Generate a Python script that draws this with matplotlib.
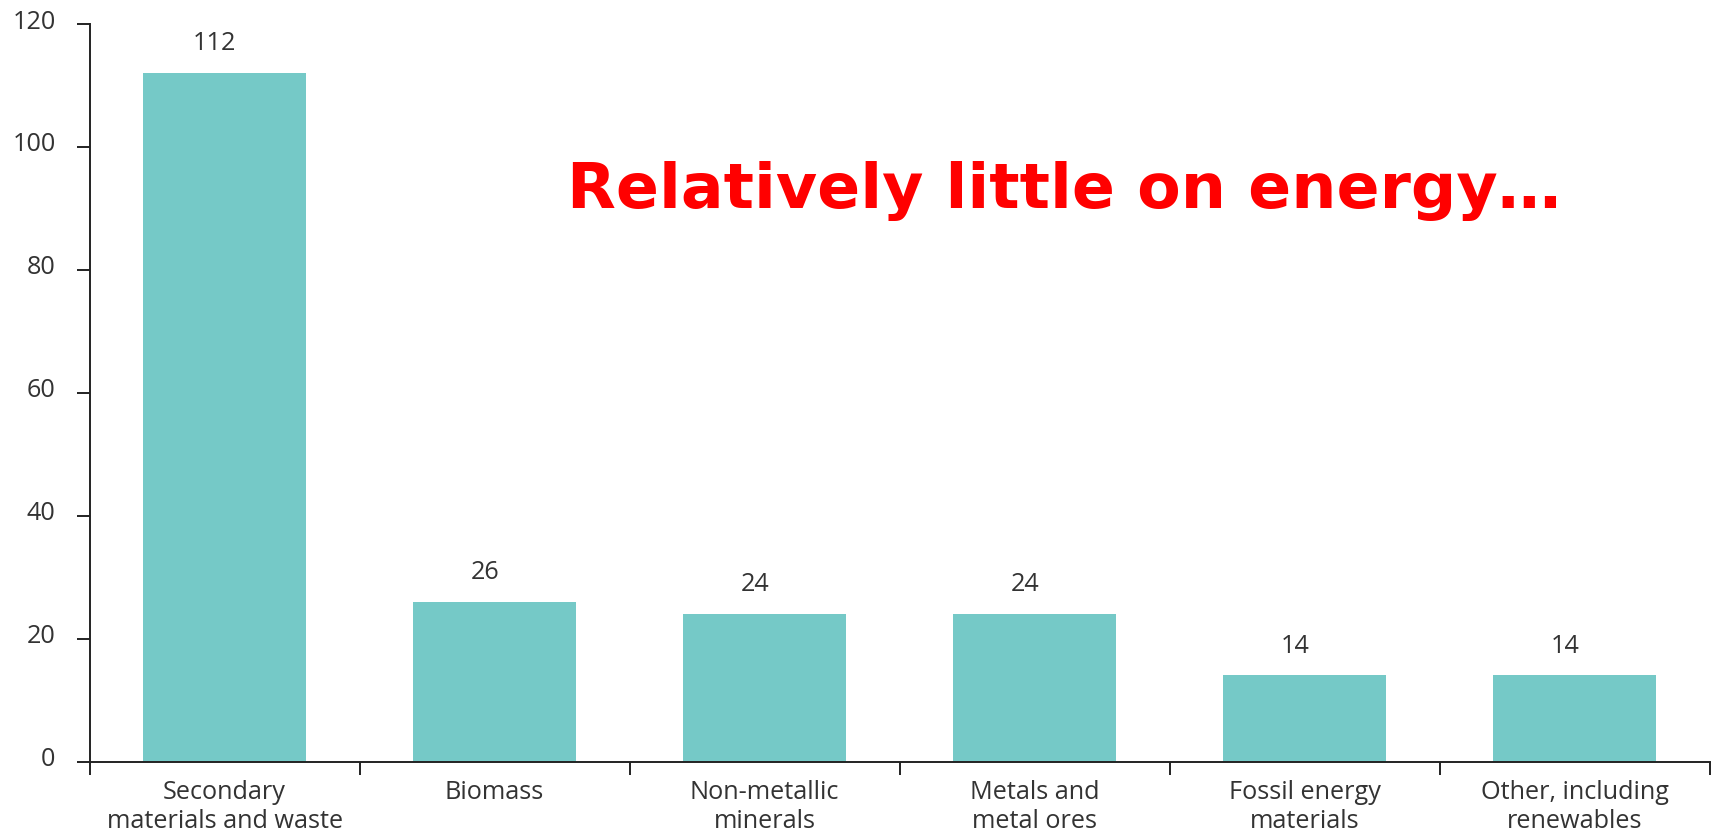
import matplotlib
matplotlib.use("Agg")
import matplotlib.pyplot as plt
import matplotlib.transforms as mtransforms
import numpy as np

categories = ["Secondary\nmaterials and waste", "Biomass", "Non-metallic\nminerals",
              "Metals and\nmetal ores", "Fossil energy\nmaterials", "Other, including\nrenewables"]
values = [112, 26, 24, 24, 14, 14]
yticks = [0, 20, 40, 60, 80, 100, 120]
annotation = "Relatively little on energy\u2026"

plt.rcParams['font.family'] = ['Open Sans', 'DejaVu Sans']
text_color = '#333333'
bar_color = '#75C9C7'
fs = 18.2

fig = plt.figure(figsize=(17.13, 8.34), dpi=100)
ax = fig.add_axes([0.0523, 0.0869, 0.998 - 0.0523, 0.9712 - 0.0869])

x = np.arange(len(categories))
ax.bar(x, values, width=0.604, color=bar_color, zorder=2)

for xi, v in zip(x, values):
    ax.annotate(str(v), (xi, v), xytext=(-7, 16.5), textcoords='offset points',
                ha='center', va='baseline', fontsize=fs, color=text_color)

ax.set_xlim(-0.5, len(categories) - 0.5)
ax.set_ylim(0, 120)
ax.set_yticks(yticks)
ax.set_yticklabels([str(t) for t in yticks])
ax.set_xticks(np.arange(-0.5, len(categories), 1.0))
ax.set_xticklabels([])
ax.set_xticks(x, minor=True)
ax.set_xticklabels(categories, minor=True, fontsize=fs, color=text_color, linespacing=1.18)
ax.tick_params(axis='x', which='minor', length=0, pad=13.5)
ax.tick_params(axis='x', which='major', length=9, width=1.4, color='#222222', direction='out')
ax.tick_params(axis='y', length=9.5, width=1.4, color='#222222', pad=15,
               labelsize=fs, labelcolor=text_color)

offset = mtransforms.ScaledTranslation(0, 5 / 100, fig.dpi_scale_trans)
for lab in ax.get_yticklabels():
    lab.set_transform(lab.get_transform() + offset)

for s in ['top', 'right']:
    ax.spines[s].set_visible(False)
for s in ['left', 'bottom']:
    ax.spines[s].set_linewidth(1.4)
    ax.spines[s].set_color('#222222')

fig.text(0.331, 0.7506, annotation, ha='left', va='baseline', fontsize=45.6,
         fontweight='bold', color='#FF0000', family='DejaVu Sans')

fig.savefig("out.png", dpi=100)
